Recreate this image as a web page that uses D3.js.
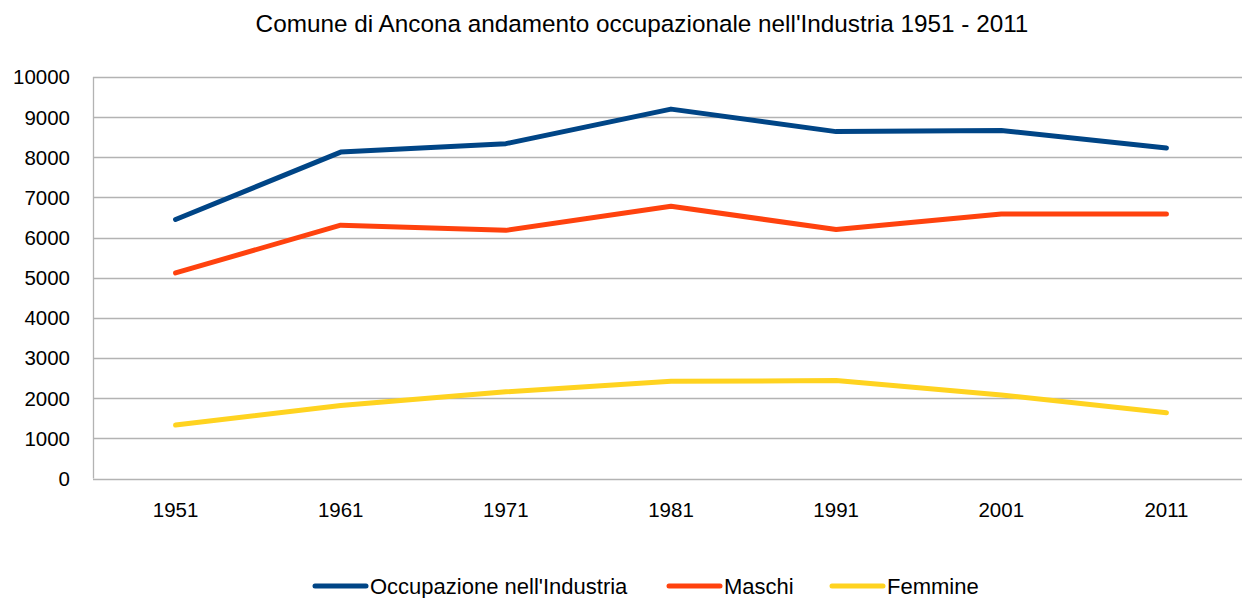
<!DOCTYPE html>
<html>
<head>
<meta charset="utf-8">
<script src="https://cdn.jsdelivr.net/npm/d3@7"></script>
<style>
  body { margin: 0; background: #fff; }
  text { font-family: "Liberation Sans", sans-serif; fill: #000; }
</style>
</head>
<body>
<div id="chart"></div>
<script>
var years = ["1951", "1961", "1971", "1981", "1991", "2001", "2011"];
var totale = [6450, 8130, 8340, 9200, 8640, 8670, 8230];
var maschi = [5120, 6310, 6180, 6780, 6200, 6590, 6590];
var femmine = [1330, 1820, 2160, 2420, 2440, 2080, 1640];
var yTicks = [0, 1000, 2000, 3000, 4000, 5000, 6000, 7000, 8000, 9000, 10000];
var seriesNames = ["Occupazione nell'Industria", "Maschi", "Femmine"];
var seriesColors = ["#004586", "#ff420e", "#ffd320"];

var series = [totale, maschi, femmine];

var svg = d3.select("#chart").append("svg")
  .attr("width", 1242)
  .attr("height", 598);

var x = d3.scaleBand().domain(years).range([93, 1249]);
var y = d3.scaleLinear().domain([0, 10000]).range([478.5, 77]);

// grid
svg.append("g").selectAll("line")
  .data(yTicks)
  .enter().append("line")
  .attr("x1", 93)
  .attr("x2", 1249)
  .attr("y1", function(d){ return Math.round(y(d)) + 0.5; })
  .attr("y2", function(d){ return Math.round(y(d)) + 0.5; })
  .attr("stroke", "#b3b3b3")
  .attr("stroke-width", 1.3);

svg.append("line")
  .attr("x1", 93.5).attr("x2", 93.5)
  .attr("y1", y(10000)).attr("y2", y(0))
  .attr("stroke", "#b3b3b3")
  .attr("stroke-width", 1.3);

// y labels
svg.append("g").selectAll("text")
  .data(yTicks)
  .enter().append("text")
  .attr("x", 70)
  .attr("y", function(d){ return y(d); })
  .attr("dy", "0.36em")
  .attr("text-anchor", "end")
  .style("font-size", "20.5px")
  .text(function(d){ return d; });

// x labels
svg.append("g").selectAll("text")
  .data(years)
  .enter().append("text")
  .attr("x", function(d){ return x(d) + x.bandwidth() / 2; })
  .attr("y", 517)
  .attr("text-anchor", "middle")
  .style("font-size", "20.5px")
  .text(function(d){ return d; });

// lines
var line = d3.line()
  .x(function(d, i){ return x(years[i]) + x.bandwidth() / 2; })
  .y(function(d){ return y(d); });

series.forEach(function(s, k){
  svg.append("path")
    .datum(s)
    .attr("d", line)
    .attr("fill", "none")
    .attr("stroke", seriesColors[k])
    .attr("stroke-width", 5)
    .attr("stroke-linecap", "round")
    .attr("stroke-linejoin", "round");
});

// title
svg.append("text")
  .attr("x", 642)
  .attr("y", 32)
  .attr("text-anchor", "middle")
  .style("font-size", "24.3px")
  .text("Comune di Ancona andamento occupazionale nell'Industria 1951 - 2011");

// legend
var legendX = [313, 667, 830];
seriesNames.forEach(function(name, k){
  svg.append("line")
    .attr("x1", legendX[k] + 2)
    .attr("x2", legendX[k] + 53)
    .attr("y1", 586)
    .attr("y2", 586)
    .attr("stroke", seriesColors[k])
    .attr("stroke-width", 5)
    .attr("stroke-linecap", "round");
  svg.append("text")
    .attr("x", legendX[k] + 57)
    .attr("y", 594)
    .style("font-size", "22px")
    .text(name);
});
</script>
</body>
</html>
